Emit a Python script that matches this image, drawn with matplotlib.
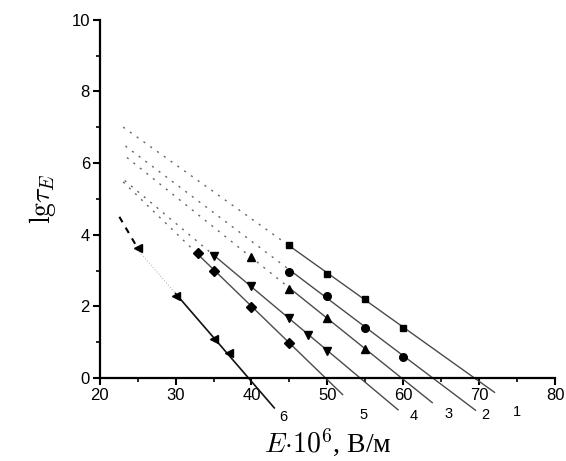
import numpy as np
import matplotlib.pyplot as plt
from matplotlib.ticker import MultipleLocator

plt.rcParams['mathtext.fontset'] = 'cm'
plt.rcParams['font.family'] = ['Liberation Sans', 'DejaVu Sans']

# measured points, one list per curve (1..6)
E1 = [45, 50, 55, 60]
T1 = [3.70, 2.90, 2.20, 1.41]
E2 = [45, 50, 55, 60]
T2 = [2.97, 2.30, 1.41, 0.60]
E3 = [40, 45, 50, 55]
T3 = [3.38, 2.48, 1.68, 0.81]
E4 = [35, 40, 45, 47.5, 50]
T4 = [3.41, 2.57, 1.68, 1.20, 0.75]
E5 = [33, 35, 40, 45]
T5 = [3.48, 2.99, 1.99, 0.99]
E6 = [25, 30, 35, 37]
T6 = [3.63, 2.30, 1.09, 0.70]

series_E = [E1, E2, E3, E4, E5, E6]
series_T = [T1, T2, T3, T4, T5, T6]
markers = ['s', 'o', '^', 'v', 'D', '<']
msizes = [5, 5.5, 6, 6, 4.8, 6]
curve_names = ['1', '2', '3', '4', '5', '6']

# extent of the fitted lines (extrapolated part, fitted part, end below axis)
dot_start = [23.1, 23.4, 23.6, 23.3, 23.1, 22.6]
solid_start = [45, 45, 45, 35, 33, 30]
line_end = [72, 69.5, 63.8, 59.3, 52, 43]
dash6_top = 4.5  # upper end of the dashed piece of curve 6

# curve number labels under the axis
label_x = [74.9, 70.8, 66.0, 61.4, 54.8, 44.2]
label_y = [-0.95, -1.03, -1.0, -1.05, -1.03, -1.08]

fig = plt.figure(figsize=(5.66, 4.61), dpi=100)
ax = fig.add_axes([0.176, 0.180, 0.805, 0.777])

for i in range(6):
    E = np.array(series_E[i])
    T = np.array(series_T[i])
    k, b = np.polyfit(E, T, 1)
    xs = np.array([solid_start[i], line_end[i]])
    if i < 5:
        xd = np.array([dot_start[i], solid_start[i]])
        ax.plot(xd, k * xd + b, color='#666666', lw=1.0, ls=(0, (1.5, 4.5)))
        ax.plot(xs, k * xs + b, color='#4a4a4a', lw=1.0, clip_on=False)
    else:
        ax.plot([dot_start[i], E[0]], [dash6_top, T[0]], color='black', lw=1.5, ls=(0, (3, 3)))
        xf = np.array([E[0], solid_start[i]])
        ax.plot(xf, k * xf + b, color='#aaaaaa', lw=0.7, ls=(0, (1, 2)))
        ax.plot(xs, k * xs + b, color='#111111', lw=1.2, clip_on=False)
    ax.plot(E, T, ls='none', marker=markers[i], ms=msizes[i], color='black', zorder=5)
    ax.text(label_x[i], label_y[i], curve_names[i], fontsize=10.5, ha='center', va='center')

ax.set_xlim(20, 80)
ax.set_ylim(0, 10)
ax.xaxis.set_major_locator(MultipleLocator(10))
ax.xaxis.set_minor_locator(MultipleLocator(5))
ax.yaxis.set_major_locator(MultipleLocator(2))
ax.yaxis.set_minor_locator(MultipleLocator(1))
ax.spines['top'].set_visible(False)
ax.spines['right'].set_visible(False)
ax.spines['left'].set_linewidth(1.6)
ax.spines['bottom'].set_linewidth(1.6)
ax.tick_params(which='major', length=5, width=1.5, labelsize=12, pad=2)
ax.tick_params(which='minor', length=3, width=1.2)

ax.set_xlabel(r'$E{\cdot}10^6$, В/м', fontsize=20, family=['Liberation Serif', 'DejaVu Serif'], labelpad=17)
ax.set_ylabel(r'$\mathrm{lg}\tau_E$', fontsize=20, labelpad=10)

fig.savefig('out.png', dpi=100)
